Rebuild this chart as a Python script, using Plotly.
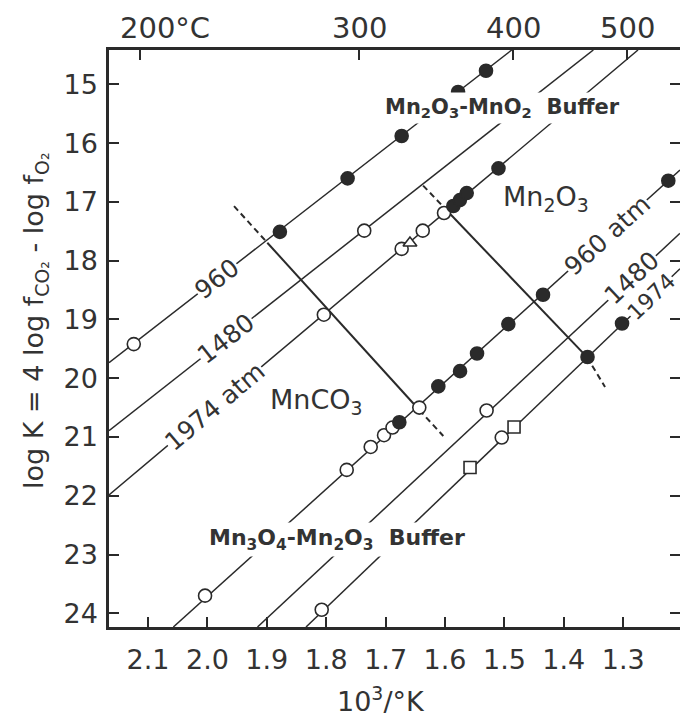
import plotly.graph_objects as go

INK = "#2a2a2a"
TXT = "#333333"
FONT = "DejaVu Sans"

# ---------------- axes ----------------
X_RANGE = [2.1657, 1.2044]          # 10^3/K (reversed)
Y_RANGE = [24.233, 14.4165]         # log K (reversed)
x_ticks = [2.1, 2.0, 1.9, 1.8, 1.7, 1.6, 1.5, 1.4, 1.3]
x_ticktext = ["2.1", "2.0", "1.9", "1.8", "1.7", "1.6", "1.5", "1.4", "1.3"]
y_ticks = [15, 16, 17, 18, 19, 20, 21, 22, 23, 24]
top_temps_c = [200, 300, 400, 500]
top_ticktext = ["200°C", "300", "400", "500"]

# ---------------- isobars (end points) ----------------
# Mn2O3-MnO2 buffer family
up960_x = [2.1657, 1.4877];  up960_y = [19.736, 14.4165]
up1480_x = [2.1657, 1.3503]; up1480_y = [20.893, 14.4165]
up1974_x = [2.1657, 1.2751]; up1974_y = [21.987, 14.4165]
# Mn3O4-Mn2O3 buffer family
lo960_x = [2.0574, 1.2044];  lo960_y = [24.233, 16.458]
lo1480_x = [1.9157, 1.2044]; lo1480_y = [24.233, 17.535]
lo1974_x = [1.834, 1.2044];  lo1974_y = [24.233, 18.139]

# ---------------- MnCO3 stability boundaries ----------------
lb_dash_top_x = [1.9552, 1.8992]; lb_dash_top_y = [17.073, 17.695]
lb_solid_x = [1.8992, 1.6433];    lb_solid_y = [17.695, 20.541]
lb_dash_bot_x = [1.6433, 1.6029]; lb_dash_bot_y = [20.541, 20.984]
rb_dash_top_x = [1.6369, 1.5965]; rb_dash_top_y = [16.723, 17.152]
rb_solid_x = [1.5965, 1.3609];    rb_solid_y = [17.152, 19.641]
rb_dash_bot_x = [1.3609, 1.3306]; rb_dash_bot_y = [19.641, 20.150]

# ---------------- experimental points ----------------
up960_open_x = [2.124];  up960_open_y = [19.42]
up960_fill_x = [1.878, 1.764, 1.673, 1.578, 1.531]
up960_fill_y = [17.51, 16.60, 15.88, 15.13, 14.77]
up1480_open_x = [1.736]; up1480_open_y = [17.49]
up1974_open_x = [1.804, 1.673, 1.6375, 1.6017]
up1974_open_y = [18.92, 17.80, 17.49, 17.19]
up1974_tri_x = [1.659];  up1974_tri_y = [17.70]
up1974_fill_x = [1.586, 1.575, 1.5635, 1.510]
up1974_fill_y = [17.07, 16.97, 16.85, 16.43]

lo960_open_x = [2.004, 1.7655, 1.7251, 1.7027, 1.6884, 1.6433]
lo960_open_y = [23.70, 21.56, 21.17, 20.97, 20.84, 20.50]
lo960_fill_x = [1.6769, 1.6113, 1.5747, 1.5461, 1.4934, 1.435, 1.2241]
lo960_fill_y = [20.75, 20.14, 19.88, 19.58, 19.08, 18.58, 16.64]
lo1480_open_x = [1.530]; lo1480_open_y = [20.55]
lo1974_open_x = [1.8076, 1.5045]; lo1974_open_y = [23.94, 21.01]
lo1974_sq_x = [1.5579, 1.4838];   lo1974_sq_y = [21.52, 20.83]
lo1974_fill_x = [1.3601, 1.302];  lo1974_fill_y = [19.64, 19.07]

fig = go.Figure()


def add_line(xs, ys, width=1.5, dash=None):
    fig.add_trace(go.Scatter(x=xs, y=ys, mode="lines",
                             line=dict(color=INK, width=width, dash=dash),
                             hoverinfo="skip", showlegend=False))


def add_pts(xs, ys, symbol="circle", filled=False, size=13):
    fig.add_trace(go.Scatter(x=xs, y=ys, mode="markers",
                             marker=dict(symbol=symbol, size=size,
                                         color=INK if filled else "white",
                                         line=dict(color=INK, width=1.6)),
                             hoverinfo="skip", showlegend=False))


for xs, ys in [(up960_x, up960_y), (up1480_x, up1480_y), (up1974_x, up1974_y),
               (lo960_x, lo960_y), (lo1480_x, lo1480_y), (lo1974_x, lo1974_y)]:
    add_line(xs, ys, 1.5)

add_line(lb_solid_x, lb_solid_y, 2)
add_line(rb_solid_x, rb_solid_y, 2)
for xs, ys in [(lb_dash_top_x, lb_dash_top_y), (lb_dash_bot_x, lb_dash_bot_y),
               (rb_dash_top_x, rb_dash_top_y), (rb_dash_bot_x, rb_dash_bot_y)]:
    add_line(xs, ys, 2, "6px,4px")

add_pts(up960_open_x, up960_open_y)
add_pts(up960_fill_x, up960_fill_y, filled=True)
add_pts(up1480_open_x, up1480_open_y)
add_pts(up1974_open_x, up1974_open_y)
add_pts(up1974_tri_x, up1974_tri_y, "triangle-up", size=12)
add_pts(up1974_fill_x, up1974_fill_y, filled=True)
add_pts(lo960_open_x, lo960_open_y)
add_pts(lo960_fill_x, lo960_fill_y, filled=True)
add_pts(lo1480_open_x, lo1480_open_y)
add_pts(lo1974_open_x, lo1974_open_y)
add_pts(lo1974_sq_x, lo1974_sq_y, "square", size=12)
add_pts(lo1974_fill_x, lo1974_fill_y, filled=True)

# invisible traces to attach the secondary (top / right) axes
fig.add_trace(go.Scatter(x=[None], y=[None], xaxis="x2", yaxis="y", showlegend=False))
fig.add_trace(go.Scatter(x=[None], y=[None], xaxis="x", yaxis="y2", showlegend=False))


def on_line(xs, ys, x):
    t = (x - xs[0]) / (xs[1] - xs[0])
    return ys[0] + t * (ys[1] - ys[0])


def ann(**kw):
    base = dict(showarrow=False, xanchor="center", yanchor="middle")
    base.update(kw)
    return base


annotations = []
line_labels = [
    ("960", up960_x, up960_y, 1.9833, -37.8, 25),
    ("1480", up1480_x, up1480_y, 1.9682, -38.0, 25),
    ("1974 atm", up1974_x, up1974_y, 1.9877, -40.0, 25),
    ("960 atm", lo960_x, lo960_y, 1.3268, -42.0, 25),
    ("1480", lo1480_x, lo1480_y, 1.2847, -43.0, 25),
    ("1974", lo1974_x, lo1974_y, 1.2525, -43.8, 22),
]
for text, xs, ys, lx, ang, fs in line_labels:
    annotations.append(ann(x=lx, y=on_line(xs, ys, lx), xref="x", yref="y",
                           text=text, textangle=ang,
                           font=dict(family=FONT, size=fs, color=TXT),
                           bgcolor="white", borderpad=0))

annotations += [
    ann(x=1.5032, y=15.40, xref="x", yref="y",
        text="<b>Mn<sub>2</sub>O<sub>3</sub>-MnO<sub>2</sub>  Buffer</b>",
        font=dict(family=FONT, size=21, color=TXT), bgcolor="white", borderpad=2),
    ann(x=1.7823, y=22.74, xref="x", yref="y",
        text="<b>Mn<sub>3</sub>O<sub>4</sub>-Mn<sub>2</sub>O<sub>3</sub>  Buffer</b>",
        font=dict(family=FONT, size=22, color=TXT), bgcolor="white", borderpad=2),
    ann(x=1.4308, y=16.95, xref="x", yref="y",
        text="Mn<sub>2</sub>O<sub>3</sub>", font=dict(family=FONT, size=27, color=TXT)),
    ann(x=1.8172, y=20.39, xref="x", yref="y",
        text="MnCO<sub>3</sub>", font=dict(family=FONT, size=27, color=TXT)),
    # axis titles
    ann(x=-0.1296, y=0.532, xref="paper", yref="paper", textangle=-90,
        text="log K = 4 log f<sub>CO₂</sub> - log f<sub>O₂</sub>",
        font=dict(family=FONT, size=27, color=TXT)),
    ann(x=0.476, y=-0.1265, xref="paper", yref="paper",
        text="10<sup>3</sup>/°K", font=dict(family=FONT, size=27, color=TXT)),
]
top_vals = [1000.0 / (t + 273.15) for t in top_temps_c]
for v, txt in zip(top_vals, top_ticktext):
    annotations.append(ann(x=v, y=1.0, xref="x", yref="paper",
                           text=txt, yanchor="bottom", yshift=3,
                           xshift=25 if "°C" in txt else 0,
                           font=dict(family=FONT, size=29, color=TXT)))

axis_common = dict(showgrid=False, zeroline=False, ticks="inside", ticklen=10,
                   tickwidth=2, tickcolor=INK)

fig.update_layout(
    width=680, height=723,
    margin=dict(l=109, r=0, t=50, b=96),
    paper_bgcolor="white", plot_bgcolor="white",
    showlegend=False,
    xaxis=dict(range=X_RANGE, tickvals=x_ticks, ticktext=x_ticktext,
               showline=True, linewidth=2.5, linecolor=INK, mirror=True,
               tickfont=dict(family=FONT, size=27, color=TXT),
               ticklabelstandoff=7, **axis_common),
    xaxis2=dict(range=X_RANGE, overlaying="x", side="top", anchor="y",
                tickvals=top_vals, showticklabels=False, showline=False,
                **axis_common),
    yaxis=dict(range=Y_RANGE, tickvals=y_ticks,
               ticktext=[str(v) for v in y_ticks],
               showline=True, linewidth=2.5, linecolor=INK, mirror=False,
               tickfont=dict(family=FONT, size=27, color=TXT),
               ticklabelstandoff=3, **axis_common),
    yaxis2=dict(range=Y_RANGE, overlaying="y", side="right", anchor="x",
                tickvals=y_ticks, showticklabels=False, showline=False,
                **axis_common),
    annotations=annotations,
)

fig.write_html("out.html",
               config={"displayModeBar": False},
               post_script="document.body.style.margin='0';"
                           "document.body.style.overflow='hidden';")
